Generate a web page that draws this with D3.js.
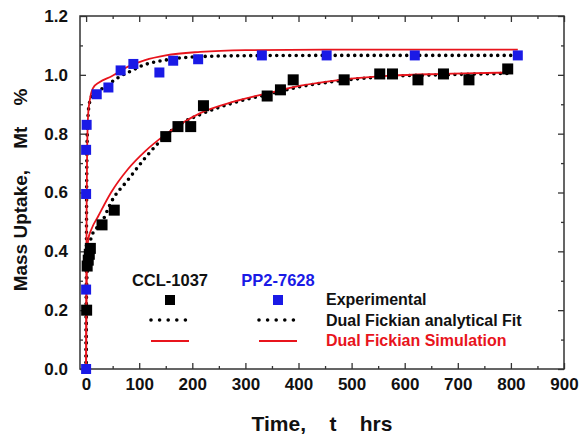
<!DOCTYPE html>
<html>
<head>
<meta charset="utf-8">
<script src="https://cdn.jsdelivr.net/npm/d3@7"></script>
<style>
  body { margin: 0; background: #fff; }
  svg { display: block; font-family: "Liberation Sans", Arial, sans-serif; font-weight: bold; }
  .axis path, .axis line { stroke: #333; }
</style>
</head>
<body>
<div id="chart"></div>
<script>
// experimental points, CCL-1037 (black)
var cclTime = [1, 2, 4, 6, 8, 30, 53, 150, 173, 197, 221, 341, 366, 390, 486, 553, 577, 625, 673, 721, 794];
var cclMass = [0.2, 0.35, 0.37, 0.39, 0.41, 0.49, 0.54, 0.79, 0.824, 0.824, 0.895, 0.928, 0.949, 0.983, 0.983, 1.003, 1.003, 0.983, 1.003, 0.983, 1.02];

// experimental points, PP2-7628 (blue)
var ppTime = [0, 0, 0, 0, 1, 20, 42, 65, 89, 138, 164, 211, 331, 453, 619, 813];
var ppMass = [0, 0.27, 0.595, 0.745, 0.83, 0.934, 0.957, 1.015, 1.037, 1.008, 1.048, 1.053, 1.066, 1.066, 1.066, 1.066];

// dual fickian simulation (red) curves
var ppSimTime = [0, 0.5, 1, 2, 4, 7, 13, 25, 48, 79, 111, 150, 215, 300, 450, 600, 813];
var ppSimMass = [0, 0.3, 0.55, 0.75, 0.87, 0.915, 0.955, 0.975, 0.995, 1.028, 1.05, 1.066, 1.078, 1.084, 1.086, 1.086, 1.086];
var cclSimTime = [0, 0.5, 1, 2, 4, 10, 23, 47, 79, 111, 148, 215, 278, 341, 404, 479, 574, 668, 800];
var cclSimMass = [0, 0.2, 0.3, 0.38, 0.44, 0.475, 0.52, 0.6, 0.68, 0.74, 0.795, 0.87, 0.909, 0.937, 0.963, 0.983, 0.997, 1.003, 1.008];

// dual fickian analytical fit (dotted) curves
var ppFitTime = [0, 0.5, 1, 2, 4, 7, 10, 20, 40, 60, 89, 104, 152, 215, 300, 450, 600, 800];
var ppFitMass = [0, 0.35, 0.6, 0.78, 0.87, 0.91, 0.926, 0.94, 0.965, 0.99, 1.017, 1.03, 1.051, 1.062, 1.065, 1.066, 1.066, 1.066];
var cclFitTime = [0, 0.5, 1, 2, 4, 10, 30, 48, 79, 111, 136, 175, 215, 278, 341, 404, 479, 574, 668, 800];
var cclFitMass = [0, 0.2, 0.28, 0.33, 0.37, 0.45, 0.5, 0.57, 0.643, 0.717, 0.768, 0.83, 0.865, 0.905, 0.933, 0.96, 0.98, 0.995, 1.0, 1.005];

var xTicks = [0, 100, 200, 300, 400, 500, 600, 700, 800, 900];
var yTicks = [0.0, 0.2, 0.4, 0.6, 0.8, 1.0, 1.2];

var zip = function(a, b) { return a.map(function(d, i) { return [d, b[i]]; }); };

var W = 584, H = 434,
    margin = {top: 16, right: 20, bottom: 65, left: 80},
    iw = W - margin.left - margin.right,
    ih = H - margin.top - margin.bottom;

var x = d3.scaleLinear().domain([-11.5, 900]).range([0, iw]),
    y = d3.scaleLinear().domain([0, 1.2]).range([ih, 0]);

var svg = d3.select('#chart').append('svg')
    .attr('width', W)
    .attr('height', H);

var g = svg.append('g')
    .attr('transform', 'translate(' + margin.left + ',' + margin.top + ')');

// axes, ticks inward on all four sides
var xMinor = d3.range(50, 900, 100), yMinor = d3.range(0.1, 1.2, 0.2);

function addAxis(axis, tr, labels) {
  var a = g.append('g').attr('class', 'axis').attr('transform', tr).call(axis);
  a.select('.domain').remove();
  a.selectAll('line').attr('stroke-width', 1.3);
  if (!labels) a.selectAll('text').remove();
  return a;
}

var xb = addAxis(d3.axisBottom(x).tickValues(xTicks).tickSize(-6).tickPadding(9).tickFormat(d3.format('d')),
  'translate(0,' + ih + ')', true);
xb.selectAll('text').attr('font-size', 17).attr('font-weight', 'bold').attr('fill', '#111')
  .attr('font-family', '"Liberation Sans", Arial, sans-serif');
addAxis(d3.axisBottom(x).tickValues(xMinor).tickSize(-3), 'translate(0,' + ih + ')', false);
addAxis(d3.axisTop(x).tickValues(xTicks).tickSize(-6), null, false);
addAxis(d3.axisTop(x).tickValues(xMinor).tickSize(-3), null, false);

var yl = addAxis(d3.axisLeft(y).tickValues(yTicks).tickSize(-6).tickPadding(12).tickFormat(d3.format('.1f')),
  null, true);
yl.selectAll('text').attr('font-size', 17).attr('font-weight', 'bold').attr('fill', '#111')
  .attr('font-family', '"Liberation Sans", Arial, sans-serif');
addAxis(d3.axisLeft(y).tickValues(yMinor).tickSize(-3), null, false);
addAxis(d3.axisRight(y).tickValues(yTicks).tickSize(-6), 'translate(' + iw + ',0)', false);
addAxis(d3.axisRight(y).tickValues(yMinor).tickSize(-3), 'translate(' + iw + ',0)', false);

g.append('rect')
  .attr('width', iw).attr('height', ih)
  .attr('fill', 'none').attr('stroke', '#333').attr('stroke-width', 1.5);

// curves
var line = d3.line()
  .x(function(d) { return x(d[0]); })
  .y(function(d) { return y(d[1]); })
  .curve(d3.curveMonotoneX);

function dotted(sel, gap) {
  sel.attr('fill', 'none').attr('stroke', '#000').attr('stroke-width', 3.6)
    .attr('stroke-linecap', 'round').attr('stroke-dasharray', '0 ' + (gap || 6.5));
}
function red(sel) {
  sel.attr('fill', 'none').attr('stroke', '#e8141c').attr('stroke-width', 1.8);
}

g.append('path').datum(zip(cclFitTime, cclFitMass)).attr('d', line).call(dotted);
g.append('path').datum(zip(ppFitTime, ppFitMass)).attr('d', line).call(dotted);
g.append('path').datum(zip(cclSimTime, cclSimMass)).attr('d', line).call(red);
g.append('path').datum(zip(ppSimTime, ppSimMass)).attr('d', line).call(red);

// experimental squares
function squares(data, color, s) {
  g.append('g').selectAll('rect').data(data).enter().append('rect')
    .attr('x', function(d) { return x(d[0]) - s / 2; })
    .attr('y', function(d) { return y(d[1]) - s / 2; })
    .attr('width', s).attr('height', s)
    .attr('fill', color);
}
squares(zip(cclTime, cclMass), '#000', 11);
squares(zip(ppTime, ppMass), '#1a1ae6', 10);

// legend
var leg = svg.append('g');
var cols = [{name: 'CCL-1037', color: '#111', sq: '#000', cx: 170},
            {name: 'PP2-7628', color: '#1a1ae6', sq: '#1a1ae6', cx: 278}];
cols.forEach(function(c) {
  leg.append('text').attr('x', c.cx).attr('y', 286).attr('text-anchor', 'middle')
    .attr('font-size', 16.5).attr('fill', c.color).text(c.name);
  leg.append('rect').attr('x', c.cx - 5).attr('y', 295).attr('width', 10).attr('height', 10).attr('fill', c.sq);
  leg.append('path').attr('d', 'M' + (c.cx - 19) + ',320H' + (c.cx + 17)).call(dotted, 8.6);
  leg.append('path').attr('d', 'M' + (c.cx - 19) + ',341H' + (c.cx + 19)).call(red);
});
[['Experimental', '#111', 305], ['Dual Fickian analytical Fit', '#111', 326], ['Dual Fickian Simulation', '#e8141c', 346]]
  .forEach(function(r) {
    leg.append('text').attr('x', 326).attr('y', r[2]).attr('font-size', 16)
      .attr('fill', r[1]).text(r[0]);
  });

// axis titles
svg.append('text')
  .attr('x', 322).attr('y', 431).attr('text-anchor', 'middle')
  .attr('font-size', 21).attr('fill', '#111')
  .style('white-space', 'pre')
  .text('Time,    t    hrs');
svg.append('text')
  .attr('transform', 'translate(27,190) rotate(-90)')
  .attr('text-anchor', 'middle')
  .attr('font-size', 19).attr('fill', '#111')
  .style('white-space', 'pre')
  .text('Mass Uptake,    Mt    %');
</script>
</body>
</html>
